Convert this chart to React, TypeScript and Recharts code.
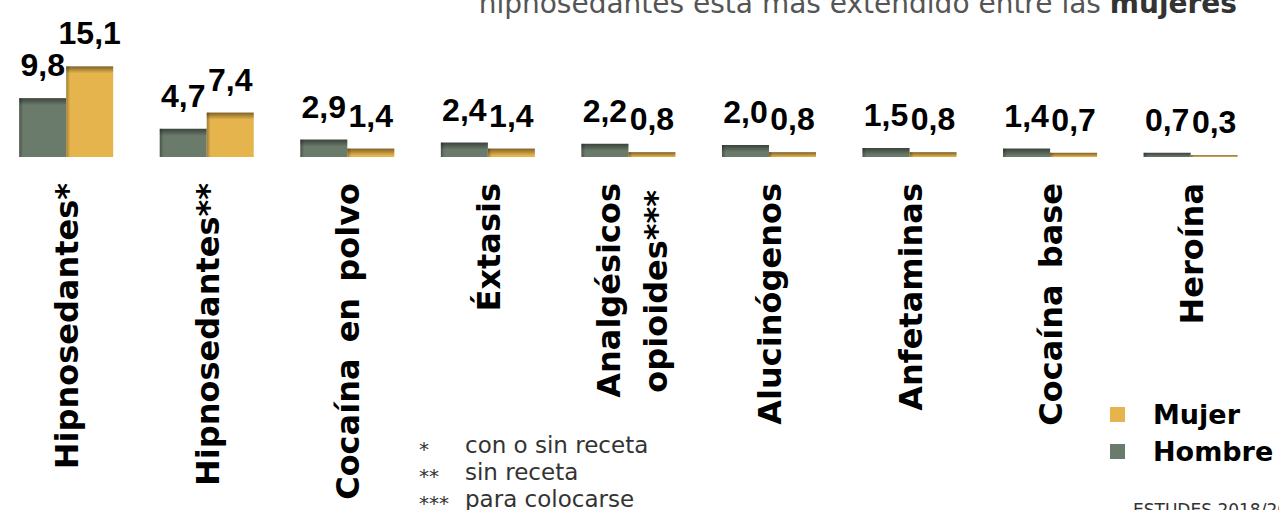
import React from "react";
import { BarChart, Bar, XAxis, YAxis, LabelList, Legend } from "recharts";

const categories = [
  "Hipnosedantes*",
  "Hipnosedantes**",
  "Cocaína en polvo",
  "Éxtasis",
  "Analgésicos\nopioides***",
  "Alucinógenos",
  "Anfetaminas",
  "Cocaína base",
  "Heroína",
];
const hombre = [9.8, 4.7, 2.9, 2.4, 2.2, 2.0, 1.5, 1.4, 0.7];
const mujer = [15.1, 7.4, 1.4, 1.4, 0.8, 0.8, 0.8, 0.7, 0.3];
const footnotes = [
  ["*", "con o sin receta"],
  ["**", "sin receta"],
  ["***", "para colocarse"],
];

const data = categories.map((name, i) => ({
  name,
  hombre: hombre[i],
  mujer: mujer[i],
}));

const fmt = (v) => Number(v).toFixed(1).replace(".", ",");

// bar with a soft inner shadow along the top and left edge
function ShadedBar(props) {
  const { x, y, width, height, fill } = props;
  if (!height || height <= 0) return null;
  const top = Math.min(7, height);
  return (
    <g>
      <rect x={x} y={y} width={width} height={height} fill={fill} />
      <rect x={x} y={y} width={width} height={top} fill="url(#topShade)" />
      <rect x={x} y={y} width={4} height={height} fill="url(#leftShade)" />
    </g>
  );
}

function CategoryTick({ x, y, payload }) {
  const lines = String(payload.value).split("\n");
  const offsets = lines.length === 1 ? [[0, 12]] : [[0, -9], [-7, 38]];
  return (
    <g transform={`translate(${x},${y + 18}) rotate(-90)`}>
      {lines.map((line, i) => (
        <text
          key={i}
          x={offsets[i][0]}
          y={offsets[i][1]}
          textAnchor="end"
          fontFamily="DejaVu Sans"
          fontWeight={700}
          fontSize={32}
          wordSpacing={5}
          fill="#000"
        >
          {line}
        </text>
      ))}
    </g>
  );
}

function LegendContent({ payload }) {
  const items = [...(payload || [])].reverse();
  return (
    <div>
      {items.map((item) => (
        <div
          key={item.value}
          style={{ display: "flex", alignItems: "center", height: 37 }}
        >
          <span
            style={{
              display: "inline-block",
              width: 15,
              height: 15,
              background: item.color,
              marginRight: 28,
            }}
          />
          <span
            style={{
              fontFamily: "DejaVu Sans",
              fontWeight: 700,
              fontSize: 27,
              color: "#000",
            }}
          >
            {item.value}
          </span>
        </div>
      ))}
    </div>
  );
}

const labelStyle = {
  fill: "#000",
  fontSize: 32,
  fontWeight: 700,
  fontFamily: "Liberation Sans",
};

export default function App() {
  return (
    <div
      style={{
        position: "absolute",
        left: 0,
        top: 0,
        width: 1279,
        height: 510,
        overflow: "hidden",
        background: "#fff",
      }}
    >
      <svg width={0} height={0} style={{ position: "absolute" }}>
        <defs>
          <linearGradient id="topShade" x1="0" y1="0" x2="0" y2="1">
            <stop offset="0%" stopColor="#000" stopOpacity={0.45} />
            <stop offset="100%" stopColor="#000" stopOpacity={0} />
          </linearGradient>
          <linearGradient id="leftShade" x1="0" y1="0" x2="1" y2="0">
            <stop offset="0%" stopColor="#000" stopOpacity={0.3} />
            <stop offset="100%" stopColor="#000" stopOpacity={0} />
          </linearGradient>
        </defs>
      </svg>
      <div style={{ position: "absolute", left: -4, top: 0 }}>
        <BarChart
          width={1279}
          height={510}
          data={data}
          margin={{ top: 61, right: 14, bottom: 0, left: 0 }}
          barCategoryGap="16.5%"
          barGap={0}
        >
          <XAxis
            dataKey="name"
            height={353}
            axisLine={false}
            tickLine={false}
            interval={0}
            tick={<CategoryTick />}
          />
          <YAxis hide domain={[0, 16]} />
          <Legend
            layout="vertical"
            align="center"
            verticalAlign="middle"
            content={<LegendContent />}
            wrapperStyle={{ left: 1114, top: 396, width: "auto", height: "auto" }}
          />
          <Bar
            dataKey="hombre"
            name="Hombre"
            fill="#6a7a6b"
            shape={<ShadedBar />}
            isAnimationActive={false}
          >
            <LabelList dataKey="hombre" position="top" offset={22} formatter={fmt} style={labelStyle} />
          </Bar>
          <Bar
            dataKey="mujer"
            name="Mujer"
            fill="#e6b44c"
            shape={<ShadedBar />}
            isAnimationActive={false}
          >
            <LabelList dataKey="mujer" position="top" offset={22} formatter={fmt} style={labelStyle} />
          </Bar>
        </BarChart>
      </div>
      <svg
        width={1279}
        height={510}
        style={{ position: "absolute", left: 0, top: 0, pointerEvents: "none" }}
      >
        <text x={1237} y={13} textAnchor="end" fontFamily="DejaVu Sans" fontSize={28} fill="#555">
          hipnosedantes está más extendido entre las{" "}
          <tspan fontWeight={700} fill="#333">mujeres</tspan>
        </text>
        {footnotes.map(([mark, text], i) => (
          <g key={mark} fontFamily="DejaVu Sans" fontSize={23} fill="#333">
            <text x={419} y={456 + i * 27} fontSize={20}>{mark}</text>
            <text x={465} y={453 + i * 27}>{text}</text>
          </g>
        ))}
        <text x={1133} y={516} fontFamily="DejaVu Sans" fontSize={17} fill="#333">
          ESTUDES 2018/2019
        </text>
      </svg>
    </div>
  );
}
